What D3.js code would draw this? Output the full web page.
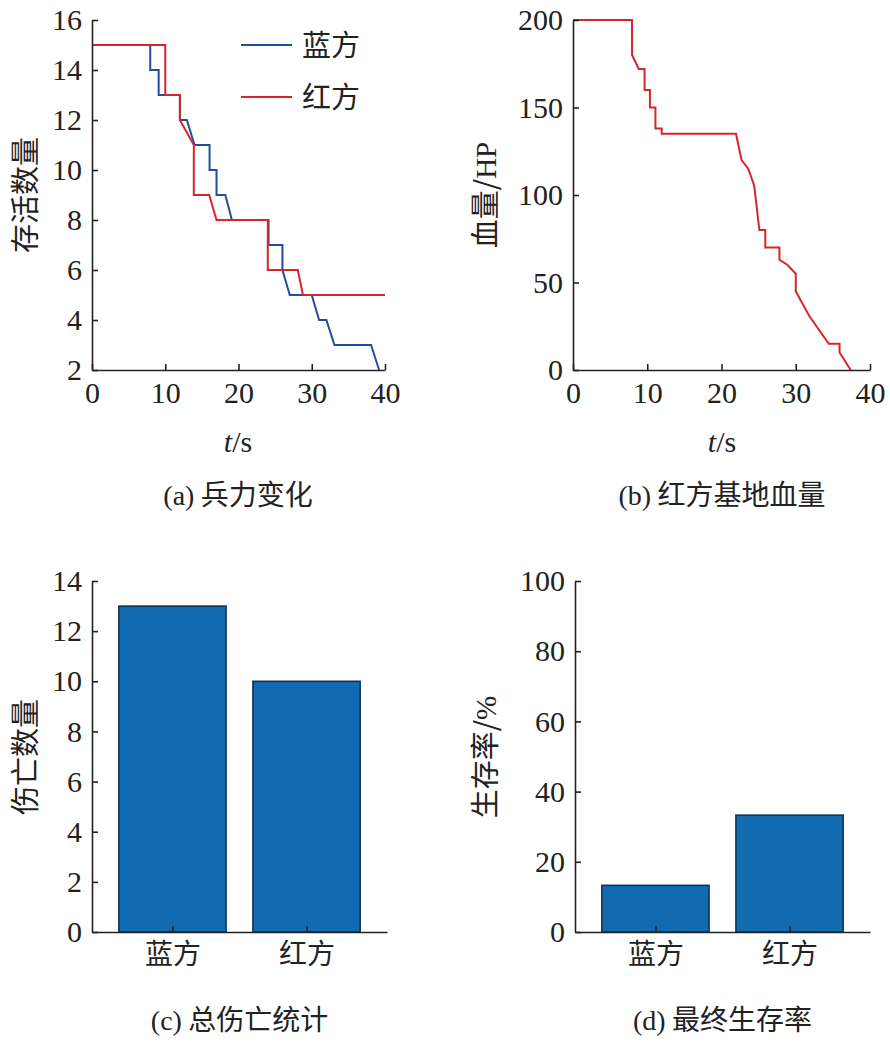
<!DOCTYPE html>
<html><head><meta charset="utf-8">
<script src="https://cdn.jsdelivr.net/npm/d3@7"></script>
<style>body{margin:0;background:#fff}</style></head>
<body><svg id="c" width="890" height="1045"></svg>
<script>
const blueT = [0,7.95,7.95,9.1,9.1,12,12,12.95,14,16.05,16.05,17,17,18.2,19.1,24.1,24.1,26,26,27,30,31,32,33.1,38.1,39.2];
const blueV = [15,15,14,14,13,13,12,12,11,11,10,10,9,9,8,8,7,7,6,5,5,4,4,3,3,2];
const redT = [0,10,10,12,12,13.9,13.9,16,17,24,24,28.1,28.8,40];
const redV = [15,15,13,13,12,11,9,9,8,8,6,6,5,5];
const hpT = [0,7.95,7.95,8.86,9.64,9.64,10.36,10.36,11.1,11.1,11.95,11.95,21.95,22.7,23.6,24.4,25.1,25.9,25.9,27.8,27.8,28.9,30,30,31.8,34.45,35.9,35.9,37.4];
const hpV = [200,200,180,172,172,160,160,150,150,138,138,135,135,120,115,105.5,80,80,70,70,63,60,55,45,31,15,15,10,0];
const sides = ["蓝方","红方"];
const casualties = [13,10];
const survival = [13.3,33.3];
const blue="#1f4e9c", red="#d7262b", barFill="#106bb0";
const svg=d3.select("#c");
const numFont="Liberation Serif, Times New Roman, serif";
const cjk="Noto Sans CJK SC, serif";
function axes(g,x,y,xt,yt,xfmt){
  const ax=d3.axisBottom(x).tickValues(xt).tickSizeInner(-6).tickSizeOuter(0).tickPadding(12);
  if(xfmt) ax.tickFormat(xfmt);
  const gx=g.append("g").attr("transform",`translate(0,${y.range()[0]})`).call(ax);
  const gy=g.append("g").attr("transform",`translate(${x.range()[0]},0)`).call(d3.axisLeft(y).tickValues(yt).tickSizeInner(-6).tickSizeOuter(0).tickPadding(10));
  [gx,gy].forEach(a=>{a.selectAll("path,line").attr("stroke","#222").attr("stroke-width",1.6);
    a.selectAll("text").attr("font-family",numFont).attr("font-size",30).attr("fill","#222");});
  if(xfmt) gx.selectAll("text").attr("font-family",cjk).attr("font-size",28);
  return [gx,gy];
}
function caption(x,y,t){svg.append("text").attr("x",x).attr("y",y).attr("text-anchor","middle").attr("font-size",28).attr("fill","#222").attr("font-family",cjk).html(t);}
function ylab(x,y,t){svg.append("text").attr("transform",`translate(${x},${y}) rotate(-90)`).attr("text-anchor","middle").attr("font-size",29).attr("fill","#222").attr("font-family",cjk).html(t);}
function xlab(x,y){svg.append("text").attr("x",x).attr("y",y).attr("text-anchor","middle").attr("font-family",numFont).attr("font-size",30).attr("fill","#222").html('<tspan font-style="italic">t</tspan>/s');}
// (a)
{const g=svg.append("g");
 const x=d3.scaleLinear([0,40],[92,385]), y=d3.scaleLinear([2,16],[370,20]);
 const line=d3.line().x(d=>x(d[0])).y(d=>y(d[1]));
 g.append("path").datum(blueT.map((t,i)=>[t,blueV[i]])).attr("d",line).attr("fill","none").attr("stroke",blue).attr("stroke-width",2);
 g.append("path").datum(redT.map((t,i)=>[t,redV[i]])).attr("d",line).attr("fill","none").attr("stroke",red).attr("stroke-width",2);
 axes(g,x,y,[0,10,20,30,40],[2,4,6,8,10,12,14,16]);
 [[blue,"蓝方",45],[red,"红方",97]].forEach(([c,t,yy])=>{
   g.append("line").attr("x1",241).attr("x2",292).attr("y1",yy).attr("y2",yy).attr("stroke",c).attr("stroke-width",2);
   g.append("text").attr("x",302).attr("y",yy+11).attr("font-family",cjk).attr("font-size",29).attr("fill","#222").text(t);});
 ylab(36,195,"存活数量"); xlab(238,452); caption(238,505,'<tspan font-family="Liberation Serif">(a)</tspan> 兵力变化');}
// (b)
{const g=svg.append("g");
 const x=d3.scaleLinear([0,40],[573,870]), y=d3.scaleLinear([0,200],[370,20]);
 const line=d3.line().x(d=>x(d[0])).y(d=>y(d[1]));
 g.append("path").datum(hpT.map((t,i)=>[t,hpV[i]])).attr("d",line).attr("fill","none").attr("stroke",red).attr("stroke-width",2);
 axes(g,x,y,[0,10,20,30,40],[0,50,100,150,200]);
 ylab(496,195,'血量/<tspan font-family="Liberation Serif">HP</tspan>'); xlab(722,452); caption(722,505,'<tspan font-family="Liberation Serif">(b)</tspan> 红方基地血量');}
function bars(x0,x1,ymax,yt,vals,lab,labx,cap){
 const g=svg.append("g");
 const x=d3.scaleLinear([0.4,2.6],[x0,x1]), y=d3.scaleLinear([0,ymax],[932,581]);
 g.selectAll("rect").data(vals).join("rect").attr("x",(d,i)=>x(i+1-0.4)).attr("width",x(1.4)-x(0.6))
  .attr("y",d=>y(d)).attr("height",d=>y(0)-y(d)).attr("fill",barFill).attr("stroke","#0d3050").attr("stroke-width",1.5);
 axes(g,x,y,[1,2],yt,d=>sides[d-1]);
 ylab(labx,757,lab); caption((x0+x1)/2,1030,cap);
}
bars(92,387,14,[0,2,4,6,8,10,12,14],casualties,"伤亡数量",36,'<tspan font-family="Liberation Serif">(c)</tspan> 总伤亡统计');
bars(575,870,100,[0,20,40,60,80,100],survival,'生存率/<tspan font-family="Liberation Serif">%</tspan>',496,'<tspan font-family="Liberation Serif">(d)</tspan> 最终生存率');
</script></body></html>
